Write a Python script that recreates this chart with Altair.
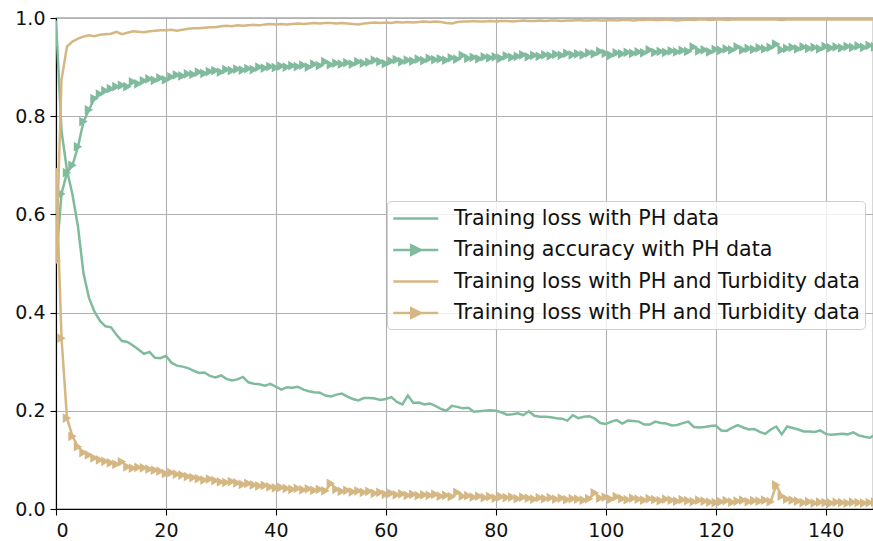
import json
import altair as alt
import pandas as pd

# ---------------- data ----------------
epochs = list(range(150))

loss_ph = [
    0.995, 0.770, 0.690, 0.640, 0.575, 0.480, 0.430, 0.402, 0.383, 0.372,
    0.370, 0.355, 0.342, 0.340, 0.333, 0.325, 0.316, 0.320, 0.308, 0.307,
    0.312, 0.298, 0.292, 0.290, 0.287, 0.282, 0.277, 0.278, 0.271, 0.268,
    0.272, 0.265, 0.262, 0.264, 0.269, 0.258, 0.255, 0.254, 0.251, 0.255,
    0.249, 0.243, 0.248, 0.247, 0.249, 0.243, 0.240, 0.238, 0.237, 0.231,
    0.229, 0.233, 0.235, 0.229, 0.224, 0.221, 0.226, 0.226, 0.225, 0.222,
    0.224, 0.228, 0.218, 0.213, 0.231, 0.216, 0.217, 0.213, 0.215, 0.210,
    0.204, 0.200, 0.210, 0.208, 0.205, 0.206, 0.198, 0.199, 0.200, 0.201,
    0.200, 0.197, 0.192, 0.193, 0.195, 0.191, 0.199, 0.190, 0.188, 0.188,
    0.187, 0.185, 0.184, 0.180, 0.191, 0.185, 0.188, 0.189, 0.184, 0.175,
    0.173, 0.178, 0.181, 0.174, 0.180, 0.179, 0.178, 0.172, 0.172, 0.178,
    0.175, 0.174, 0.170, 0.171, 0.175, 0.178, 0.167, 0.166, 0.167, 0.169,
    0.170, 0.160, 0.159, 0.166, 0.171, 0.166, 0.162, 0.163, 0.157, 0.153,
    0.162, 0.168, 0.152, 0.168, 0.165, 0.162, 0.158, 0.158, 0.157, 0.160,
    0.153, 0.151, 0.152, 0.153, 0.152, 0.156, 0.150, 0.147, 0.145, 0.151,
]

acc_ph = [
    0.505, 0.642, 0.685, 0.700, 0.738, 0.789, 0.813, 0.836, 0.845, 0.852,
    0.856, 0.860, 0.863, 0.860, 0.870, 0.866, 0.872, 0.876, 0.873, 0.878,
    0.874, 0.880, 0.884, 0.882, 0.886, 0.885, 0.890, 0.887, 0.891, 0.893,
    0.890, 0.895, 0.893, 0.896, 0.894, 0.897, 0.895, 0.900, 0.898, 0.901,
    0.899, 0.902, 0.900, 0.903, 0.901, 0.904, 0.900, 0.906, 0.903, 0.911,
    0.905, 0.908, 0.906, 0.909, 0.906, 0.911, 0.908, 0.910, 0.914, 0.911,
    0.907, 0.912, 0.915, 0.911, 0.914, 0.912, 0.916, 0.913, 0.918, 0.915,
    0.917, 0.914, 0.919, 0.916, 0.924, 0.918, 0.920, 0.917, 0.921, 0.919,
    0.921, 0.918, 0.923, 0.920, 0.922, 0.925, 0.921, 0.924, 0.922, 0.925,
    0.923, 0.926, 0.924, 0.928, 0.925, 0.927, 0.925, 0.929, 0.927, 0.932,
    0.928, 0.924, 0.929, 0.927, 0.930, 0.928, 0.931, 0.929, 0.935, 0.930,
    0.932, 0.930, 0.933, 0.931, 0.934, 0.932, 0.941, 0.933, 0.935, 0.931,
    0.936, 0.934, 0.937, 0.935, 0.941, 0.935, 0.938, 0.936, 0.939, 0.937,
    0.940, 0.947, 0.935, 0.938, 0.940, 0.937, 0.941, 0.938, 0.940, 0.937,
    0.942, 0.939, 0.941, 0.939, 0.942, 0.940, 0.943, 0.940, 0.944, 0.941,
]

loss_ph_turb = [
    0.500, 0.874, 0.942, 0.952, 0.958, 0.962, 0.965, 0.963, 0.966, 0.967,
    0.968, 0.972, 0.967, 0.970, 0.973, 0.972, 0.971, 0.973, 0.974, 0.975,
    0.975, 0.976, 0.974, 0.976, 0.978, 0.979, 0.979, 0.980, 0.981, 0.981,
    0.983, 0.984, 0.983, 0.985, 0.984, 0.985, 0.986, 0.985, 0.987, 0.988,
    0.987, 0.988, 0.987, 0.988, 0.989, 0.988, 0.989, 0.990, 0.989, 0.990,
    0.990, 0.989, 0.990, 0.989, 0.988, 0.987, 0.989, 0.990, 0.991, 0.990,
    0.991, 0.990, 0.992, 0.991, 0.992, 0.991, 0.992, 0.993, 0.992, 0.993,
    0.992, 0.990, 0.989, 0.992, 0.993, 0.993, 0.994, 0.993, 0.993, 0.994,
    0.993, 0.994, 0.994, 0.993, 0.994, 0.995, 0.994, 0.994, 0.995, 0.994,
    0.995, 0.995, 0.994, 0.995, 0.995, 0.996, 0.995, 0.995, 0.996, 0.995,
    0.995, 0.996, 0.995, 0.996, 0.996, 0.995, 0.996, 0.996, 0.997, 0.996,
    0.996, 0.997, 0.996, 0.995, 0.996, 0.997, 0.996, 0.997, 0.997, 0.996,
    0.997, 0.997, 0.996, 0.997, 0.997, 0.997, 0.997, 0.997, 0.997, 0.997,
    0.997, 0.997, 0.996, 0.997, 0.997, 0.997, 0.997, 0.997, 0.997, 0.997,
    0.997, 0.997, 0.997, 0.997, 0.997, 0.997, 0.997, 0.997, 0.997, 0.997,
]

loss_ph_turb_marked = [
    0.690, 0.348, 0.185, 0.148, 0.127, 0.115, 0.110, 0.104, 0.100, 0.097,
    0.094, 0.091, 0.096, 0.086, 0.083, 0.085, 0.084, 0.081, 0.079, 0.077,
    0.072, 0.074, 0.071, 0.069, 0.066, 0.064, 0.062, 0.059, 0.061, 0.058,
    0.055, 0.054, 0.056, 0.053, 0.050, 0.052, 0.049, 0.047, 0.048, 0.045,
    0.043, 0.044, 0.042, 0.040, 0.042, 0.039, 0.041, 0.038, 0.040, 0.037,
    0.052, 0.040, 0.036, 0.038, 0.035, 0.037, 0.034, 0.036, 0.032, 0.034,
    0.030, 0.032, 0.029, 0.031, 0.028, 0.030, 0.027, 0.029, 0.028, 0.030,
    0.026, 0.028, 0.025, 0.034, 0.026, 0.027, 0.024, 0.026, 0.023, 0.025,
    0.022, 0.025, 0.023, 0.024, 0.021, 0.024, 0.022, 0.020, 0.023, 0.021,
    0.023, 0.020, 0.022, 0.019, 0.021, 0.020, 0.018, 0.021, 0.033, 0.022,
    0.024, 0.020, 0.025, 0.021, 0.019, 0.022, 0.020, 0.018, 0.021, 0.019,
    0.017, 0.020, 0.018, 0.016, 0.019, 0.017, 0.015, 0.018, 0.016, 0.014,
    0.013, 0.015, 0.017, 0.014, 0.016, 0.018, 0.015, 0.017, 0.016, 0.018,
    0.015, 0.049, 0.026, 0.020, 0.018, 0.016, 0.013, 0.015, 0.012, 0.014,
    0.013, 0.012, 0.014, 0.013, 0.012, 0.014, 0.013, 0.012, 0.013, 0.014,
]

series_keys = ["A", "B", "C", "D"]
series_labels = [
    "Training loss with PH data",
    "Training accuracy with PH data",
    "Training loss with PH and Turbidity data",
    "Training loss with PH and Turbidity data",
]
x_ticks = [0, 20, 40, 60, 80, 100, 120, 140]
y_ticks = [0.0, 0.2, 0.4, 0.6, 0.8, 1.0]

# ---------------- styling ----------------
GREEN = "#80bb9d"
TAN = "#d5b784"
colors = [GREEN, GREEN, TAN, TAN]
has_marker = [False, True, False, True]
FONT = "DejaVu Sans"

rows = []
for key, vals in zip(series_keys, [loss_ph, acc_ph, loss_ph_turb, loss_ph_turb_marked]):
    for e, v in zip(epochs, vals):
        rows.append({"epoch": e, "value": v, "series": key})
df = pd.DataFrame(rows)

x_enc = alt.X("epoch:Q",
              scale=alt.Scale(domain=[0, 148.6], nice=False, zero=False),
              axis=alt.Axis(values=x_ticks, format="d", title=None, grid=True))
y_enc = alt.Y("value:Q",
              scale=alt.Scale(domain=[0, 1], nice=False),
              axis=alt.Axis(values=y_ticks, format=".1f", title=None, grid=True))

layers = []
for key, col, mk in zip(series_keys, colors, has_marker):
    sub = alt.Chart(df).transform_filter(alt.datum.series == key)
    layers.append(sub.mark_line(color=col, strokeWidth=2.5, clip=True).encode(x=x_enc, y=y_enc))
    if mk:
        layers.append(sub.mark_point(shape="triangle-right", filled=True, color=col,
                                     size=95, opacity=1, clip=True).encode(x=x_enc, y=y_enc))

# legend (driven by an explicit scale domain)
label_expr = (json.dumps(series_labels) + "[indexof(" + json.dumps(series_keys) + ", datum.value)]")
plain_path = "M-1,0H3"
marker_path = "M-1,0H3M0.6,-0.42L1.45,0L0.6,0.42Z"
paths = [marker_path if m else plain_path for m in has_marker]

leg = alt.Legend(
    title=None, orient="none", legendX=331, legendY=183,
    labelExpr=label_expr, labelFont=FONT, labelFontSize=20.6, labelColor="#111111",
    labelLimit=800, labelOffset=37, symbolSize=506, symbolStrokeWidth=2.5,
    symbolOpacity=1, rowPadding=7.5, padding=5,
    fillColor="rgba(255,255,255,0.8)", strokeColor="#d0d0d0", cornerRadius=4,
)
legend_layer = alt.Chart(df).mark_point(filled=True, opacity=1, strokeWidth=2.5).encode(
    stroke=alt.Stroke("series:N", scale=alt.Scale(domain=series_keys, range=colors), legend=leg),
    fill=alt.Fill("series:N", scale=alt.Scale(domain=series_keys, range=colors), legend=leg),
    shape=alt.Shape("series:N", scale=alt.Scale(domain=series_keys, range=paths), legend=leg),
).transform_filter("false")

chart = alt.layer(*layers, legend_layer).properties(
    width=817, height=491,
    autosize=alt.AutoSizeParams(type="none"),
    padding={"left": 56, "top": 18, "right": 0, "bottom": 32},
).configure_view(
    stroke="black", strokeWidth=1.1
).configure_axis(
    labelFont=FONT, labelFontSize=19, labelColor="#111111",
    gridColor="#b0b0b0", gridWidth=1.1,
    domainColor="black", domainWidth=1.1,
    tickColor="black", tickSize=6, tickWidth=1.1, labelPadding=5,
).configure_axisX(labelPadding=6)

chart.save("out.html", embed_options={"renderer": "svg", "actions": False})
